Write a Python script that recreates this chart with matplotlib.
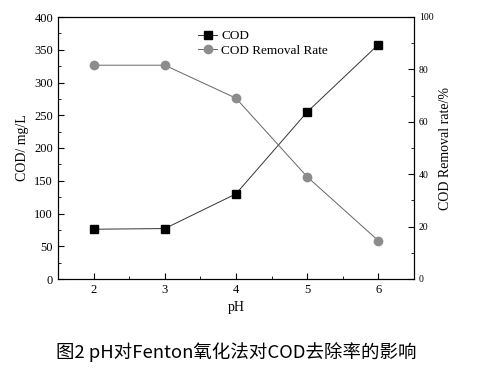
import matplotlib.pyplot as plt
from matplotlib.ticker import MultipleLocator

ph = [2, 3, 4, 5, 6]
cod = [76, 77, 130, 255, 358]
removal = [81.6, 81.6, 69, 39, 14.6]

plt.rcParams['font.family'] = ['Liberation Serif', 'DejaVu Serif']
plt.rcParams['font.size'] = 9

fig = plt.figure(figsize=(4.97, 3.71), dpi=100)
ax = fig.add_axes([58 / 497, 1 - 279 / 371, (414 - 58) / 497, (279 - 17) / 371])
ax2 = ax.twinx()

l1, = ax.plot(ph, cod, '-', color='#333333', lw=0.7, marker='s', ms=5.5,
              mfc='black', mec='black', label='COD')
l2, = ax2.plot(ph, removal, '-', color='#666666', lw=0.7, marker='o', ms=6,
               mfc='#8c8c8c', mec='#8c8c8c', label='COD Removal Rate')

ax.set_xlim(1.5, 6.5)
ax.set_ylim(0, 400)
ax2.set_ylim(0, 100)
ax.xaxis.set_major_locator(MultipleLocator(1))
ax.xaxis.set_minor_locator(MultipleLocator(0.5))
ax.yaxis.set_major_locator(MultipleLocator(50))
ax.yaxis.set_minor_locator(MultipleLocator(25))
ax2.yaxis.set_major_locator(MultipleLocator(20))
ax2.yaxis.set_minor_locator(MultipleLocator(10))

for a in (ax, ax2):
    a.tick_params(which='both', direction='in', top=False)
    a.tick_params(which='major', length=4)
    a.tick_params(which='minor', length=2)
ax2.tick_params(labelsize=7)

ax.set_xlabel('pH', fontsize=10)
ax.set_ylabel('COD/ mg/L', fontsize=10)
ax2.set_ylabel('COD Removal rate/%', fontsize=10)

ax.legend([l1, l2], ['COD', 'COD Removal Rate'], loc='upper left',
          bbox_to_anchor=(0.37, 0.98), frameon=False, handlelength=1.5,
          handletextpad=0.3, borderpad=0.1, labelspacing=0.15, fontsize=9.5)

fig.text(236 / 497, 1 - 352 / 371, '图2 pH对Fenton氧化法对COD去除率的影响', ha='center', va='center',
         fontsize=13.3, fontweight='medium', family=['Noto Sans CJK SC', 'DejaVu Sans'])

fig.savefig('out.png', dpi=100)
